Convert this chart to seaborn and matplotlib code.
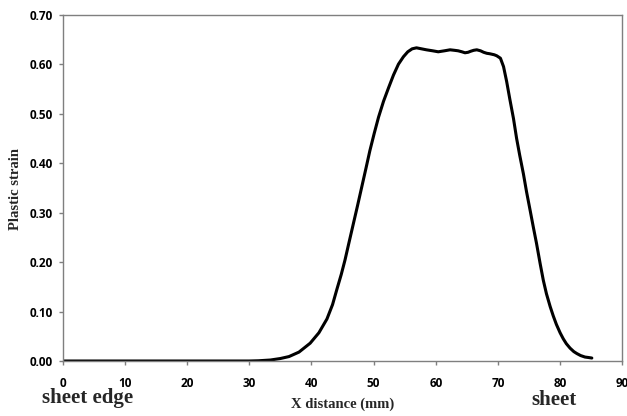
import matplotlib
matplotlib.use("Agg")
import matplotlib.pyplot as plt
import seaborn as sns
import pandas as pd
from matplotlib.ticker import FormatStrFormatter

x_mm = [0, 10, 20, 30, 31.5, 33.4, 35.0, 36.4, 38.0, 39.8, 41.2, 42.5, 43.4,
        44.1, 44.8, 45.4, 46.0, 46.7, 47.4, 48.1, 48.8, 49.4, 50.1, 50.8, 51.6,
        52.4, 53.2, 54.0, 54.8, 55.5, 56.2, 56.9, 57.7, 58.5, 59.5, 60.4, 61.4,
        62.3, 63.0, 63.6, 64.2, 64.7, 65.2, 65.6, 66.1, 66.6, 67.2, 67.7, 68.2,
        68.7, 69.4, 69.8, 70.4, 70.9, 71.4, 71.9, 72.5, 73.0, 73.5, 74.1, 74.6,
        75.2, 75.7, 76.2, 76.8, 77.3, 77.8, 78.4, 78.9, 79.4, 80.0, 80.5, 81.0,
        81.6, 82.2, 82.7, 83.3, 84.0, 84.6, 85.1]
strain = [0, 0, 0, 0, 0.0005, 0.002, 0.005, 0.009, 0.018, 0.036, 0.057, 0.085,
          0.114, 0.145, 0.175, 0.204, 0.237, 0.275, 0.313, 0.352, 0.391, 0.425,
          0.460, 0.493, 0.525, 0.552, 0.578, 0.600, 0.615, 0.625, 0.631, 0.633,
          0.631, 0.629, 0.627, 0.625, 0.627, 0.629, 0.628, 0.627, 0.625, 0.623,
          0.624, 0.626, 0.628, 0.629, 0.627, 0.624, 0.622, 0.621, 0.619, 0.617,
          0.612, 0.595, 0.565, 0.530, 0.490, 0.450, 0.416, 0.378, 0.342, 0.303,
          0.270, 0.238, 0.196, 0.163, 0.136, 0.110, 0.091, 0.074, 0.057, 0.045,
          0.035, 0.026, 0.019, 0.015, 0.011, 0.008, 0.007, 0.006]
x_ticks = [0, 10, 20, 30, 40, 50, 60, 70, 80, 90]
y_ticks = [0.0, 0.1, 0.2, 0.3, 0.4, 0.5, 0.6, 0.7]

sns.set_style("ticks")
df = pd.DataFrame({"x": x_mm, "y": strain})

fig = plt.figure(figsize=(6.27, 4.16), dpi=100)
ax = fig.add_axes([0.1, 0.1322, 0.8925, 0.8325])
sns.lineplot(data=df, x="x", y="y", estimator=None, color="black",
             linewidth=2.2, ax=ax)
ax.lines[0].set_solid_joinstyle("round")

ax.set_xlim(0, 90)
ax.set_ylim(0, 0.7)
ax.set_xticks(x_ticks)
ax.set_yticks(y_ticks)
ax.yaxis.set_major_formatter(FormatStrFormatter("%.2f"))

spine_col = "#7f7f7f"
for s in ax.spines.values():
    s.set_color(spine_col)
    s.set_linewidth(1.0)
    s.set_visible(True)
ax.tick_params(axis="both", colors=spine_col, length=3, width=1.0)
ax.tick_params(axis="x", pad=8.5)
ax.tick_params(axis="y", pad=4.0)
for lab in ax.get_xticklabels() + ax.get_yticklabels():
    lab.set_color("black")
    lab.set_fontfamily("Open Sans")
    lab.set_fontweight("bold")
    lab.set_fontsize(8.5)

ax.set_xlabel("")
ax.set_ylabel("")
fig.text((287 + 398) / 2 / 627, 1 - 408 / 416, "X distance (mm)",
         family="Liberation Serif", weight="bold", fontsize=10.5,
         ha="center", va="baseline")
fig.text(16 / 627, 1 - 189 / 416, "Plastic strain", family="Liberation Serif",
         weight="bold", fontsize=10.5, rotation=90, ha="center", va="center")
fig.text(42 / 627, 1 - 403.5 / 416, "sheet edge", family="Liberation Serif",
         weight="bold", fontsize=15, ha="left", va="baseline")
fig.text(531 / 627, 1 - 405 / 416, "sheet", family="Liberation Serif",
         weight="bold", fontsize=15, ha="left", va="baseline")

fig.savefig("out.png", dpi=100)
